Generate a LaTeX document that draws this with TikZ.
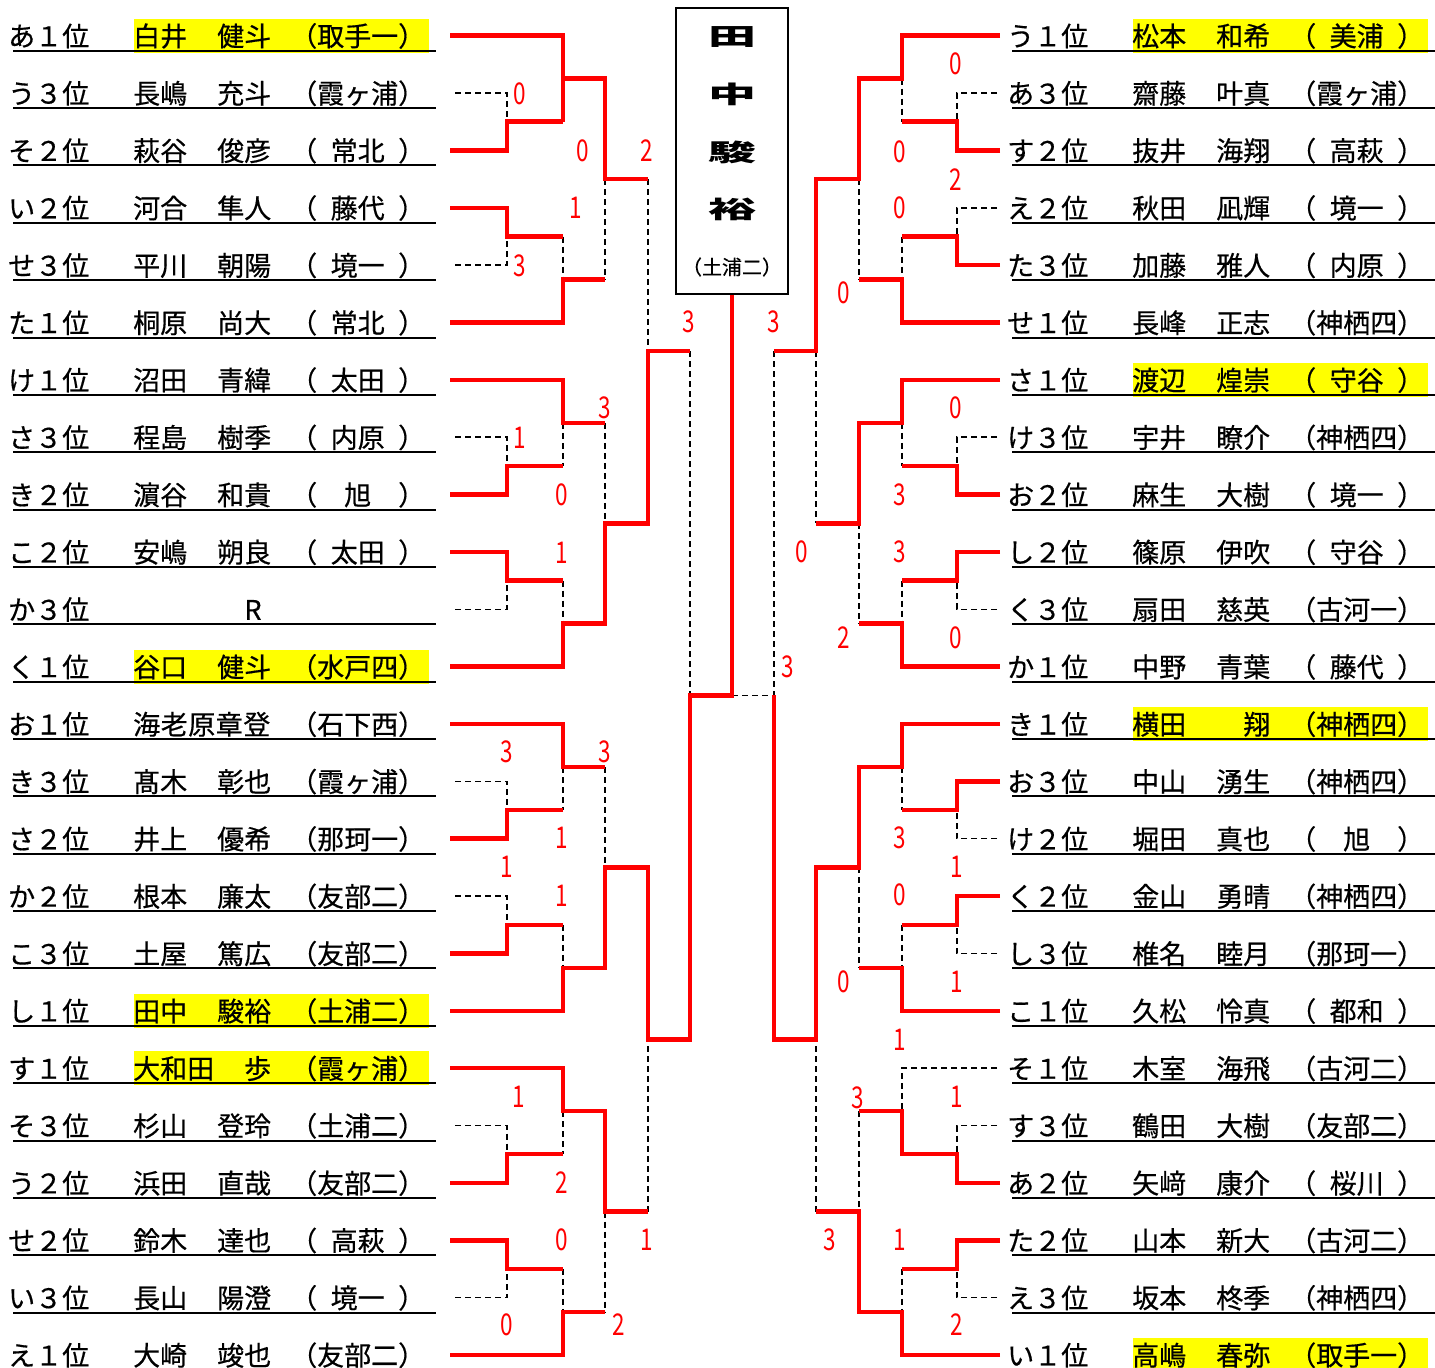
\documentclass[tikz,border=0pt]{standalone}
\usepackage{fontspec}
\setmainfont{Noto Sans CJK JP}[FakeBold=0.5]
\newfontfamily\numfont{Noto Sans CJK JP}[FakeStretch=0.75]
\newfontfamily\widefont{Noto Sans CJK JP}[FakeStretch=2.0]
\definecolor{hlyellow}{RGB}{255,255,0}
\definecolor{wred}{RGB}{255,0,0}
\newcommand\hs{\hspace{0.5em}}
\tikzset{
 win/.style={draw=wred, line width=4.5pt, line join=miter, line cap=butt},
 lose/.style={draw=black, line width=1.5pt, dash pattern=on 6pt off 4pt},
 uline/.style={draw=black, line width=2pt},
 txt/.style={anchor=base west, inner sep=0pt, font=\fontsize{27}{30}\selectfont},
 score/.style={text=wred, inner sep=0pt, font=\numfont\fontsize{30}{32}\selectfont},
}
\newcommand\prow[8]{%
 \pgfmathsetmacro\yy{35.7+57.36*#3}%
 \pgfmathsetmacro\yb{\yy+10.5}%
 \ifnum#8=1 \fill[hlyellow] ({134+#2},{\yy-17}) rectangle ({429+#2},{\yy+17});\fi
 \draw[uline] ({13+#2},{\yy+15}) -- ({436+#2},{\yy+15});
 \node[txt] (#1#3a) at ({8+#2},\yb) {#4};
 \node[txt] (#1#3b) at ({133+#2},\yb) {#5};
 \node[txt] (#1#3c) at ({217+#2},\yb) {#6};
 \node[txt] (#1#3d) at ({290+#2},\yb) {#7};
}
\newcommand\Lrow[6]{\prow{L}{0}{#1}{#2}{#3}{#4}{#5}{#6}}
\newcommand\Rrow[6]{\prow{R}{999}{#1}{#2}{#3}{#4}{#5}{#6}}
\begin{document}
\begin{tikzpicture}[x=1pt,y=-1pt]
\useasboundingbox (0,0) rectangle (1435,1368);
% ---------- left entries
\Lrow{0}{あ１位}{白井}{健斗}{（取手一）}{1}
\Lrow{1}{う３位}{長嶋}{充斗}{（霞ヶ浦）}{0}
\Lrow{2}{そ２位}{萩谷}{俊彦}{（\hs 常北\hs ）}{0}
\Lrow{3}{い２位}{河合}{隼人}{（\hs 藤代\hs ）}{0}
\Lrow{4}{せ３位}{平川}{朝陽}{（\hs 境一\hs ）}{0}
\Lrow{5}{た１位}{桐原}{尚大}{（\hs 常北\hs ）}{0}
\Lrow{6}{け１位}{沼田}{青緯}{（\hs 太田\hs ）}{0}
\Lrow{7}{さ３位}{程島}{樹季}{（\hs 内原\hs ）}{0}
\Lrow{8}{き２位}{濵谷}{和貴}{（　旭　）}{0}
\Lrow{9}{こ２位}{安嶋}{朔良}{（\hs 太田\hs ）}{0}
\Lrow{10}{か３位}{}{}{}{0}
\node[txt, anchor=base] (L10R) at (253,{35.7+57.36*10+10.5}) {R};
\Lrow{11}{く１位}{谷口}{健斗}{（水戸四）}{1}
\Lrow{12}{お１位}{\addfontfeature{LetterSpace=2}海老原章登}{}{（石下西）}{0}
\Lrow{13}{き３位}{髙木}{彰也}{（霞ヶ浦）}{0}
\Lrow{14}{さ２位}{井上}{優希}{（那珂一）}{0}
\Lrow{15}{か２位}{根本}{廉太}{（友部二）}{0}
\Lrow{16}{こ３位}{土屋}{篤広}{（友部二）}{0}
\Lrow{17}{し１位}{田中}{駿裕}{（土浦二）}{1}
\Lrow{18}{す１位}{大和田}{　歩}{（霞ヶ浦）}{1}
\Lrow{19}{そ３位}{杉山}{登玲}{（土浦二）}{0}
\Lrow{20}{う２位}{浜田}{直哉}{（友部二）}{0}
\Lrow{21}{せ２位}{鈴木}{達也}{（\hs 高萩\hs ）}{0}
\Lrow{22}{い３位}{長山}{陽澄}{（\hs 境一\hs ）}{0}
\Lrow{23}{え１位}{大崎}{竣也}{（友部二）}{0}
% ---------- right entries
\Rrow{0}{う１位}{松本}{和希}{（\hs 美浦\hs ）}{1}
\Rrow{1}{あ３位}{齋藤}{叶真}{（霞ヶ浦）}{0}
\Rrow{2}{す２位}{抜井}{海翔}{（\hs 高萩\hs ）}{0}
\Rrow{3}{え２位}{秋田}{凪輝}{（\hs 境一\hs ）}{0}
\Rrow{4}{た３位}{加藤}{雅人}{（\hs 内原\hs ）}{0}
\Rrow{5}{せ１位}{長峰}{正志}{（神栖四）}{0}
\Rrow{6}{さ１位}{渡辺}{煌崇}{（\hs 守谷\hs ）}{1}
\Rrow{7}{け３位}{宇井}{瞭介}{（神栖四）}{0}
\Rrow{8}{お２位}{麻生}{大樹}{（\hs 境一\hs ）}{0}
\Rrow{9}{し２位}{篠原}{伊吹}{（\hs 守谷\hs ）}{0}
\Rrow{10}{く３位}{扇田}{慈英}{（古河一）}{0}
\Rrow{11}{か１位}{中野}{青葉}{（\hs 藤代\hs ）}{0}
\Rrow{12}{き１位}{横田}{　翔}{（神栖四）}{1}
\Rrow{13}{お３位}{中山}{湧生}{（神栖四）}{0}
\Rrow{14}{け２位}{堀田}{真也}{（　旭　）}{0}
\Rrow{15}{く２位}{金山}{勇晴}{（神栖四）}{0}
\Rrow{16}{し３位}{椎名}{睦月}{（那珂一）}{0}
\Rrow{17}{こ１位}{久松}{怜真}{（\hs 都和\hs ）}{0}
\Rrow{18}{そ１位}{木室}{海飛}{（古河二）}{0}
\Rrow{19}{す３位}{鶴田}{大樹}{（友部二）}{0}
\Rrow{20}{あ２位}{矢﨑}{康介}{（\hs 桜川\hs ）}{0}
\Rrow{21}{た２位}{山本}{新大}{（古河二）}{0}
\Rrow{22}{え３位}{坂本}{柊季}{（神栖四）}{0}
\Rrow{23}{い１位}{高嶋}{春弥}{（取手一）}{1}
% ---------- champion box
\node[draw=black, line width=1.5pt, minimum width=112pt, minimum height=286pt, inner sep=0pt] (champ) at (732,151) {};
\node[inner sep=0pt, font=\widefont\bfseries\fontsize{24}{26}\selectfont] (ch1) at (732,37) {田};
\node[inner sep=0pt, font=\widefont\bfseries\fontsize{24}{26}\selectfont] (ch2) at (732,94) {中};
\node[inner sep=0pt, font=\widefont\bfseries\fontsize{24}{26}\selectfont] (ch3) at (732,152) {駿};
\node[inner sep=0pt, font=\widefont\bfseries\fontsize{24}{26}\selectfont] (ch4) at (732,209) {裕};
\node[inner sep=0pt, font=\fontsize{20}{22}\selectfont] (ch5) at (732,267) {（土浦二）};
% ---------- dashed (losing) paths, left
\draw[lose] (455,93.1) -- (507,93.1) -- (507,121.7);
\draw[lose] (648,179.1) -- (648,351.2);
\draw[lose] (605,179.1) -- (605,279.5);
\draw[lose] (455,265.1) -- (507,265.1) -- (507,236.5);
\draw[lose] (563,236.5) -- (563,279.5);
\draw[lose] (563,422.9) -- (563,465.9);
\draw[lose] (455,437.2) -- (507,437.2) -- (507,465.9);
\draw[lose] (605,422.9) -- (605,523.3);
\draw[lose] (455,609.3) -- (507,609.3) -- (507,580.6);
\draw[lose] (563,580.6) -- (563,623.6);
\draw[lose] (690,351.2) -- (690,695.3);
\draw[lose] (563,767.0) -- (563,810.1);
\draw[lose] (455,781.4) -- (507,781.4) -- (507,810.1);
\draw[lose] (605,767.0) -- (605,867.4);
\draw[lose] (455,896.1) -- (507,896.1) -- (507,924.8);
\draw[lose] (563,924.8) -- (563,967.8);
\draw[lose] (563,1111.2) -- (563,1154.2);
\draw[lose] (455,1125.5) -- (507,1125.5) -- (507,1154.2);
\draw[lose] (648,1211.6) -- (648,1039.5);
\draw[lose] (605,1211.6) -- (605,1312.0);
\draw[lose] (455,1297.6) -- (507,1297.6) -- (507,1268.9);
\draw[lose] (563,1268.9) -- (563,1312.0);
\draw[lose] (732,695.3) -- (774,695.3);
% ---------- dashed (losing) paths, right
\draw[lose] (902,78.7) -- (902,121.7);
\draw[lose] (997,93.1) -- (957,93.1) -- (957,121.7);
\draw[lose] (859,179.1) -- (859,279.5);
\draw[lose] (816,351.2) -- (816,523.3);
\draw[lose] (774,351.2) -- (774,695.3);
\draw[lose] (997,207.8) -- (957,207.8) -- (957,236.5);
\draw[lose] (902,236.5) -- (902,279.5);
\draw[lose] (902,422.9) -- (902,465.9);
\draw[lose] (997,437.2) -- (957,437.2) -- (957,465.9);
\draw[lose] (859,523.3) -- (859,623.6);
\draw[lose] (997,609.3) -- (957,609.3) -- (957,580.6);
\draw[lose] (902,580.6) -- (902,623.6);
\draw[lose] (902,767.0) -- (902,810.1);
\draw[lose] (997,838.7) -- (957,838.7) -- (957,810.1);
\draw[lose] (859,867.4) -- (859,967.8);
\draw[lose] (997,953.5) -- (957,953.5) -- (957,924.8);
\draw[lose] (902,924.8) -- (902,967.8);
\draw[lose] (997,1068.2) -- (902,1068.2) -- (902,1111.2);
\draw[lose] (997,1125.5) -- (957,1125.5) -- (957,1154.2);
\draw[lose] (859,1111.2) -- (859,1211.6);
\draw[lose] (816,1211.6) -- (816,1039.5);
\draw[lose] (997,1297.6) -- (957,1297.6) -- (957,1268.9);
\draw[lose] (902,1268.9) -- (902,1312.0);
% ---------- red (winning) paths, left
\draw[win] (450,150.4) -- (507,150.4) -- (507,121.7) -- (563,121.7);
\draw[win] (450,35.7) -- (563,35.7) -- (563,121.7);
\draw[win] (563,78.7) -- (605,78.7) -- (605,179.1) -- (648,179.1);
\draw[win] (450,207.8) -- (507,207.8) -- (507,236.5) -- (563,236.5);
\draw[win] (450,322.5) -- (563,322.5) -- (563,279.5) -- (605,279.5);
\draw[win] (450,379.9) -- (563,379.9) -- (563,422.9) -- (605,422.9);
\draw[win] (450,494.6) -- (507,494.6) -- (507,465.9) -- (563,465.9);
\draw[win] (450,551.9) -- (507,551.9) -- (507,580.6) -- (563,580.6);
\draw[win] (450,666.7) -- (563,666.7) -- (563,623.6) -- (605,623.6) -- (605,523.3) -- (648,523.3) -- (648,351.2) -- (690,351.2);
\draw[win] (450,724.0) -- (563,724.0) -- (563,767.0) -- (605,767.0);
\draw[win] (450,838.7) -- (507,838.7) -- (507,810.1) -- (563,810.1);
\draw[win] (450,953.5) -- (507,953.5) -- (507,924.8) -- (563,924.8);
\draw[win] (450,1010.8) -- (563,1010.8) -- (563,967.8) -- (605,967.8) -- (605,867.4) -- (648,867.4) -- (648,1039.5) -- (690,1039.5) -- (690,695.3) -- (732,695.3) -- (champ.south);
\draw[win] (450,1068.2) -- (563,1068.2) -- (563,1111.2) -- (605,1111.2) -- (605,1211.6) -- (648,1211.6);
\draw[win] (450,1182.9) -- (507,1182.9) -- (507,1154.2) -- (563,1154.2);
\draw[win] (450,1240.3) -- (507,1240.3) -- (507,1268.9) -- (563,1268.9);
\draw[win] (450,1355.0) -- (563,1355.0) -- (563,1312.0) -- (605,1312.0);
% ---------- red (winning) paths, right
\draw[win] (1000,35.7) -- (902,35.7) -- (902,78.7) -- (859,78.7) -- (859,179.1) -- (816,179.1) -- (816,351.2) -- (774,351.2);
\draw[win] (1000,150.4) -- (957,150.4) -- (957,121.7) -- (902,121.7);
\draw[win] (1000,265.1) -- (957,265.1) -- (957,236.5) -- (902,236.5);
\draw[win] (1000,322.5) -- (902,322.5) -- (902,279.5) -- (859,279.5);
\draw[win] (1000,379.9) -- (902,379.9) -- (902,422.9) -- (859,422.9) -- (859,523.3) -- (816,523.3);
\draw[win] (1000,494.6) -- (957,494.6) -- (957,465.9) -- (902,465.9);
\draw[win] (1000,551.9) -- (957,551.9) -- (957,580.6) -- (902,580.6);
\draw[win] (1000,666.7) -- (902,666.7) -- (902,623.6) -- (859,623.6);
\draw[win] (1000,724.0) -- (902,724.0) -- (902,767.0) -- (859,767.0) -- (859,867.4) -- (816,867.4) -- (816,1039.5) -- (774,1039.5) -- (774,695.3);
\draw[win] (1000,781.4) -- (957,781.4) -- (957,810.1) -- (902,810.1);
\draw[win] (1000,896.1) -- (957,896.1) -- (957,924.8) -- (902,924.8);
\draw[win] (1000,1010.8) -- (902,1010.8) -- (902,967.8) -- (859,967.8);
\draw[win] (1000,1182.9) -- (957,1182.9) -- (957,1154.2) -- (902,1154.2) -- (902,1111.2) -- (859,1111.2);
\draw[win] (1000,1240.3) -- (957,1240.3) -- (957,1268.9) -- (902,1268.9);
\draw[win] (1000,1355.0) -- (902,1355.0) -- (902,1312.0) -- (859,1312.0) -- (859,1211.6) -- (816,1211.6);
% ---------- scores
\foreach \px/\py/\v [count=\k] in {520/94/0,583/151/0,647/151/2,576/208/1,520/266/3,689/322/3,605/408/3,520/438/1,562/495/0,562/553/1,507/752/3,605/752/3,562/838/1,507/867/1,562/896/1,519/1097/1,562/1183/2,562/1240/0,647/1240/1,507/1325/0,619/1325/2}
  \node[score] (sL\k) at (\px,\py) {\v};
\foreach \px/\py/\v [count=\k] in {956/64/0,900/152/0,956/180/2,900/208/0,844/293/0,774/322/3,956/408/0,900/495/3,802/552/0,900/552/3,844/638/2,956/638/0,788/667/3,900/838/3,957/867/1,900/895/0,844/982/0,957/982/1,900/1040/1,858/1098/3,957/1097/1,830/1240/3,900/1240/1,957/1325/2}
  \node[score] (sR\k) at (\px,\py) {\v};
\end{tikzpicture}
\end{document}
